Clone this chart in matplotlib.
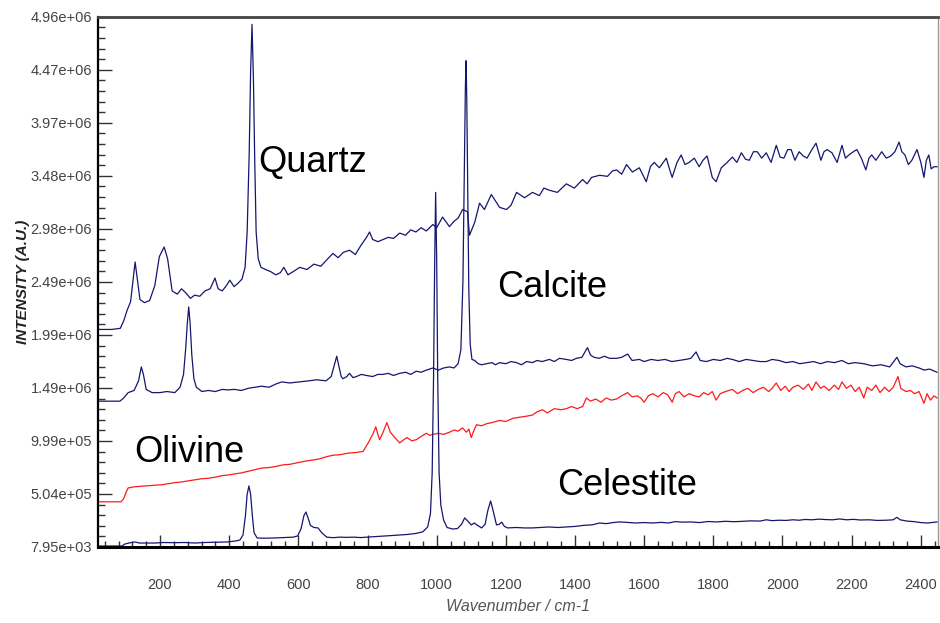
import numpy as np
import matplotlib
matplotlib.use('Agg')
import matplotlib.pyplot as plt
from matplotlib.ticker import MultipleLocator, FixedLocator

# intensities below are in units of 1e6 counts
quartz_x = [21, 60, 85, 95, 105, 115, 122, 128, 134, 142, 155, 170, 185, 198, 212, 222, 235, 250, 262, 275,
            288, 300, 315, 330, 345, 359, 368, 380, 392, 402, 414, 425, 437, 446, 452, 458, 462, 466, 470, 474,
            478, 484, 492, 505, 520, 535, 548, 558, 570, 585, 604, 625, 645, 665, 685, 700, 715, 730, 748, 765,
            780, 797, 806, 815, 830, 845, 860, 875, 893, 910, 925, 940, 955, 970, 989, 1000, 1017, 1037, 1050, 1062,
            1075, 1089, 1095, 1110, 1124, 1138, 1158, 1170, 1182, 1202, 1215, 1231, 1254, 1277, 1297, 1310, 1326, 1349, 1375, 1398,
            1422, 1435, 1448, 1471, 1494, 1508, 1520, 1535, 1549, 1566, 1586, 1606, 1618, 1629, 1644, 1664, 1672, 1681, 1695, 1707,
            1718, 1730, 1745, 1759, 1770, 1782, 1797, 1808, 1823, 1840, 1855, 1868, 1881, 1893, 1904, 1916, 1927, 1940, 1953, 1967,
            1982, 1993, 2004, 2015, 2025, 2036, 2048, 2060, 2071, 2085, 2097, 2111, 2120, 2129, 2143, 2158, 2172, 2182, 2192, 2205,
            2215, 2228, 2241, 2250, 2258, 2270, 2287, 2300, 2313, 2325, 2337, 2345, 2354, 2364, 2374, 2389, 2400, 2409, 2416, 2423,
            2430, 2438, 2447]
quartz_y = [2.04, 2.04, 2.05, 2.12, 2.22, 2.30, 2.50, 2.67, 2.52, 2.32, 2.29, 2.31, 2.45, 2.72, 2.81, 2.70, 2.40, 2.37, 2.42, 2.38,
            2.33, 2.36, 2.35, 2.40, 2.42, 2.52, 2.42, 2.40, 2.45, 2.50, 2.44, 2.47, 2.51, 2.62, 2.95, 3.70, 4.45, 4.89, 4.40, 3.60,
            2.95, 2.70, 2.62, 2.60, 2.58, 2.55, 2.57, 2.62, 2.55, 2.58, 2.62, 2.60, 2.65, 2.63, 2.70, 2.75, 2.71, 2.76, 2.78, 2.74,
            2.82, 2.90, 2.95, 2.88, 2.86, 2.88, 2.90, 2.89, 2.94, 2.92, 2.97, 2.95, 2.99, 2.96, 3.02, 2.99, 3.09, 3.00, 3.05, 3.08,
            3.16, 3.14, 2.92, 3.04, 3.22, 3.16, 3.30, 3.24, 3.18, 3.16, 3.20, 3.32, 3.27, 3.32, 3.29, 3.36, 3.34, 3.32, 3.40, 3.36,
            3.44, 3.40, 3.46, 3.48, 3.47, 3.52, 3.53, 3.49, 3.58, 3.51, 3.55, 3.42, 3.56, 3.60, 3.55, 3.64, 3.55, 3.46, 3.60, 3.67,
            3.58, 3.60, 3.64, 3.56, 3.62, 3.66, 3.46, 3.42, 3.55, 3.60, 3.65, 3.60, 3.69, 3.63, 3.62, 3.70, 3.70, 3.64, 3.69, 3.60,
            3.76, 3.65, 3.64, 3.72, 3.72, 3.62, 3.70, 3.66, 3.64, 3.72, 3.78, 3.62, 3.70, 3.72, 3.69, 3.60, 3.76, 3.64, 3.67, 3.70,
            3.72, 3.64, 3.53, 3.64, 3.67, 3.62, 3.70, 3.64, 3.66, 3.70, 3.79, 3.70, 3.67, 3.58, 3.62, 3.72, 3.60, 3.46, 3.62, 3.67,
            3.54, 3.56, 3.56]

calcite_x = [21, 60, 84, 95, 108, 125, 138, 146, 152, 160, 177, 200, 220, 243, 258, 268, 274, 279, 283, 287,
             292, 298, 305, 321, 340, 360, 380, 396, 415, 435, 455, 475, 494, 515, 535, 552, 575, 604, 630, 653,
             680, 695, 705, 711, 717, 724, 729, 740, 748, 758, 768, 782, 797, 815, 830, 845, 860, 875, 893, 910,
             925, 941, 955, 970, 989, 1005, 1020, 1037, 1050, 1062, 1070, 1076, 1080, 1083, 1085, 1087, 1090, 1093, 1097, 1102,
             1110, 1120, 1130, 1144, 1160, 1170, 1182, 1200, 1215, 1231, 1245, 1260, 1277, 1290, 1305, 1326, 1340, 1355, 1375, 1390,
             1404, 1420, 1436, 1445, 1455, 1470, 1485, 1500, 1520, 1535, 1552, 1565, 1586, 1600, 1620, 1640, 1660, 1680, 1700, 1720,
             1735, 1750, 1762, 1780, 1800, 1820, 1840, 1855, 1875, 1895, 1915, 1935, 1953, 1970, 1990, 2010, 2030, 2050, 2070, 2090,
             2110, 2130, 2150, 2172, 2190, 2210, 2235, 2260, 2285, 2310, 2331, 2340, 2357, 2375, 2395, 2410, 2425, 2440, 2447]
calcite_y = [1.37, 1.37, 1.37, 1.40, 1.45, 1.47, 1.56, 1.69, 1.62, 1.48, 1.45, 1.45, 1.46, 1.45, 1.50, 1.62, 1.85, 2.10, 2.25, 2.10,
             1.80, 1.58, 1.50, 1.46, 1.47, 1.46, 1.48, 1.475, 1.48, 1.47, 1.49, 1.50, 1.51, 1.50, 1.53, 1.55, 1.54, 1.55, 1.56, 1.57,
             1.56, 1.60, 1.72, 1.79, 1.70, 1.60, 1.58, 1.60, 1.63, 1.59, 1.60, 1.62, 1.61, 1.60, 1.62, 1.62, 1.63, 1.61, 1.63, 1.64,
             1.62, 1.65, 1.64, 1.66, 1.68, 1.66, 1.68, 1.69, 1.68, 1.72, 1.85, 2.50, 3.50, 4.30, 4.55, 4.20, 3.30, 2.40, 1.90, 1.76,
             1.75, 1.72, 1.71, 1.72, 1.73, 1.71, 1.73, 1.72, 1.74, 1.73, 1.71, 1.74, 1.73, 1.75, 1.74, 1.76, 1.74, 1.77, 1.76, 1.75,
             1.77, 1.78, 1.87, 1.80, 1.78, 1.77, 1.79, 1.77, 1.77, 1.78, 1.81, 1.75, 1.76, 1.74, 1.76, 1.75, 1.76, 1.74, 1.75, 1.76,
             1.77, 1.83, 1.75, 1.74, 1.76, 1.75, 1.77, 1.76, 1.74, 1.76, 1.75, 1.74, 1.74, 1.76, 1.75, 1.73, 1.74, 1.72, 1.73, 1.74,
             1.72, 1.74, 1.73, 1.75, 1.72, 1.73, 1.72, 1.70, 1.71, 1.69, 1.78, 1.72, 1.69, 1.70, 1.68, 1.66, 1.67, 1.65, 1.64]

olivine_x = [21, 60, 87, 95, 102, 108, 125, 145, 165, 185, 206, 225, 245, 262, 280, 301, 320, 340, 360, 380,
             396, 415, 435, 455, 475, 494, 515, 535, 555, 575, 590, 604, 620, 642, 660, 680, 700, 720, 745, 765,
             787, 802, 815, 824, 830, 835, 845, 856, 866, 879, 893, 905, 914, 928, 941, 955, 970, 980, 989, 1005,
             1020, 1037, 1050, 1062, 1075, 1086, 1093, 1100, 1108, 1115, 1130, 1145, 1160, 1182, 1200, 1220, 1240, 1260, 1277, 1290,
             1306, 1320, 1340, 1360, 1375, 1390, 1406, 1422, 1433, 1445, 1460, 1475, 1490, 1505, 1520, 1535, 1552, 1565, 1580, 1590,
             1600, 1612, 1625, 1640, 1655, 1668, 1681, 1690, 1701, 1715, 1730, 1745, 1759, 1772, 1785, 1797, 1808, 1820, 1835, 1855,
             1870, 1885, 1900, 1915, 1930, 1945, 1960, 1970, 1982, 1995, 2008, 2019, 2030, 2045, 2060, 2075, 2085, 2097, 2110, 2120,
             2135, 2150, 2162, 2172, 2185, 2198, 2210, 2222, 2235, 2245, 2258, 2270, 2282, 2295, 2308, 2320, 2334, 2342, 2357, 2370,
             2382, 2395, 2409, 2418, 2428, 2438, 2447]
olivine_y = [0.43, 0.43, 0.43, 0.46, 0.52, 0.56, 0.57, 0.575, 0.58, 0.585, 0.59, 0.60, 0.61, 0.615, 0.625, 0.635, 0.645, 0.65, 0.66, 0.675,
             0.68, 0.69, 0.70, 0.715, 0.73, 0.745, 0.75, 0.76, 0.775, 0.78, 0.79, 0.80, 0.81, 0.82, 0.83, 0.85, 0.865, 0.87, 0.885, 0.89,
             0.90, 0.98, 1.06, 1.13, 1.06, 1.01, 1.08, 1.17, 1.08, 1.03, 0.98, 1.01, 1.03, 1.00, 1.01, 1.04, 1.07, 1.05, 1.06, 1.07,
             1.06, 1.08, 1.10, 1.09, 1.12, 1.08, 1.11, 1.03, 1.10, 1.15, 1.14, 1.16, 1.17, 1.19, 1.18, 1.21, 1.22, 1.23, 1.24, 1.27,
             1.29, 1.26, 1.30, 1.29, 1.30, 1.32, 1.30, 1.32, 1.40, 1.37, 1.39, 1.36, 1.40, 1.38, 1.39, 1.42, 1.45, 1.41, 1.42, 1.40,
             1.36, 1.42, 1.44, 1.41, 1.45, 1.43, 1.36, 1.44, 1.46, 1.41, 1.44, 1.42, 1.41, 1.45, 1.43, 1.46, 1.38, 1.44, 1.46, 1.48,
             1.44, 1.47, 1.49, 1.45, 1.48, 1.50, 1.46, 1.49, 1.54, 1.47, 1.51, 1.46, 1.50, 1.52, 1.48, 1.53, 1.47, 1.55, 1.49, 1.51,
             1.47, 1.52, 1.48, 1.55, 1.49, 1.52, 1.46, 1.50, 1.40, 1.50, 1.47, 1.52, 1.45, 1.50, 1.46, 1.50, 1.60, 1.49, 1.46, 1.47,
             1.44, 1.46, 1.35, 1.44, 1.38, 1.42, 1.40]

celestite_x = [21, 60, 90, 98, 110, 128, 140, 160, 185, 210, 240, 270, 301, 330, 360, 396, 420, 431, 440, 447,
               452, 457, 462, 467, 472, 481, 500, 530, 560, 585, 598, 608, 616, 622, 628, 635, 645, 657, 668, 682,
               700, 720, 740, 760, 780, 800, 820, 845, 870, 893, 915, 941, 960, 974, 982, 987, 991, 994, 997, 1000,
               1003, 1007, 1012, 1020, 1030, 1046, 1060, 1072, 1081, 1090, 1100, 1109, 1118, 1130, 1140, 1148, 1156, 1163, 1173, 1181,
               1188, 1196, 1205, 1230, 1255, 1277, 1300, 1325, 1350, 1375, 1400, 1425, 1450, 1471, 1490, 1510, 1529, 1550, 1575, 1600,
               1625, 1650, 1670, 1690, 1710, 1735, 1760, 1785, 1810, 1835, 1860, 1885, 1910, 1935, 1953, 1970, 1990, 2010, 2030, 2048,
               2065, 2085, 2105, 2125, 2145, 2165, 2185, 2205, 2225, 2250, 2275, 2300, 2320, 2331, 2340, 2360, 2380, 2400, 2420, 2447]
celestite_y = [0.017, 0.017, 0.017, 0.035, 0.045, 0.055, 0.045, 0.045, 0.045, 0.050, 0.048, 0.050, 0.045, 0.050, 0.052, 0.055, 0.065, 0.073, 0.12, 0.30,
               0.50, 0.578, 0.50, 0.30, 0.14, 0.092, 0.090, 0.092, 0.096, 0.10, 0.111, 0.18, 0.30, 0.335, 0.28, 0.21, 0.19, 0.186, 0.14, 0.10,
               0.095, 0.10, 0.098, 0.10, 0.096, 0.10, 0.105, 0.11, 0.115, 0.12, 0.125, 0.135, 0.15, 0.195, 0.32, 0.70, 1.60, 2.60, 3.32, 2.70,
               1.60, 0.70, 0.40, 0.26, 0.19, 0.176, 0.18, 0.22, 0.28, 0.25, 0.214, 0.232, 0.21, 0.186, 0.22, 0.35, 0.438, 0.35, 0.214, 0.22,
               0.24, 0.20, 0.186, 0.190, 0.186, 0.186, 0.19, 0.195, 0.190, 0.195, 0.20, 0.21, 0.215, 0.232, 0.226, 0.236, 0.242, 0.238, 0.232, 0.236,
               0.232, 0.238, 0.232, 0.245, 0.24, 0.242, 0.236, 0.246, 0.242, 0.248, 0.244, 0.248, 0.252, 0.25, 0.262, 0.254, 0.258, 0.256, 0.262, 0.258,
               0.265, 0.262, 0.268, 0.264, 0.262, 0.27, 0.262, 0.266, 0.26, 0.262, 0.256, 0.258, 0.262, 0.285, 0.262, 0.25, 0.245, 0.236, 0.232, 0.242]

y_ticks = [7.95e3, 5.04e5, 9.99e5, 1.49e6, 1.99e6, 2.49e6, 2.98e6, 3.48e6, 3.97e6, 4.47e6, 4.96e6]
y_labels = ['7.95e+03', '5.04e+05', '9.99e+05', '1.49e+06', '1.99e+06', '2.49e+06',
            '2.98e+06', '3.48e+06', '3.97e+06', '4.47e+06', '4.96e+06']

names = ['Quartz', 'Calcite', 'Olivine', 'Celestite']
name_x = [642, 1335, 286, 1551]
name_y = [3.60, 2.43, 0.886, 0.587]

navy = '#16166f'
scale = 1e6

fig = plt.figure(figsize=(9.4, 6.23), dpi=100)
ax = fig.add_axes([0.104, 0.122, 0.894, 0.851])

ax.plot(quartz_x, np.array(quartz_y) * scale, color=navy, lw=0.9)
ax.plot(calcite_x, np.array(calcite_y) * scale, color=navy, lw=0.9)
ax.plot(olivine_x, np.array(olivine_y) * scale, color='#ff1a1a', lw=0.9)
ax.plot(celestite_x, np.array(celestite_y) * scale, color=navy, lw=0.9)

for n, x, y in zip(names, name_x, name_y):
    ax.text(x, y * scale, n, fontsize=26, family=['Liberation Sans', 'DejaVu Sans'],
            ha='center', va='center', color='black')

ax.set_xlim(20, 2450)
ax.set_ylim(y_ticks[0], y_ticks[-1])

narrow = ['Liberation Sans Narrow', 'Liberation Sans', 'DejaVu Sans']

ax.set_yticks(np.linspace(y_ticks[0], y_ticks[-1], 11))
ax.set_yticklabels(y_labels)
ax.yaxis.set_minor_locator(FixedLocator(np.linspace(y_ticks[0], y_ticks[-1], 51)))
ax.xaxis.set_major_locator(MultipleLocator(200))
ax.xaxis.set_minor_locator(MultipleLocator(40))

ax.tick_params(axis='y', which='major', direction='in', length=10, width=1, color='#333333',
               labelsize=10.5, labelcolor='#444444', pad=4)
ax.tick_params(axis='y', which='minor', direction='in', length=5, width=1, color='#333333')
ax.tick_params(axis='x', which='major', direction='in', length=9, width=1, color='#333333',
               labelsize=10.5, labelcolor='#444444', pad=22)
ax.tick_params(axis='x', which='minor', direction='in', length=4, width=1, color='#333333')
for lab in ax.get_xticklabels() + ax.get_yticklabels():
    lab.set_family(narrow)

ax.spines['left'].set_linewidth(1.6)
ax.spines['bottom'].set_linewidth(2.2)
ax.spines['top'].set_linewidth(2)
ax.spines['top'].set_color('#444444')
ax.spines['right'].set_linewidth(1)
ax.spines['right'].set_color('#999999')

ax.set_xlabel('Wavenumber / cm-1', fontsize=11.5, style='italic', color='#555555', family=narrow)
ax.xaxis.set_label_coords(0.5, -0.098)
ax.set_ylabel('INTENSITY (A.U.)', fontsize=11, style='italic', fontweight='bold', color='#222222',
              family=['Liberation Sans', 'DejaVu Sans'])
ax.yaxis.set_label_coords(-0.081, 0.5)

plt.savefig('out.png', dpi=100)
